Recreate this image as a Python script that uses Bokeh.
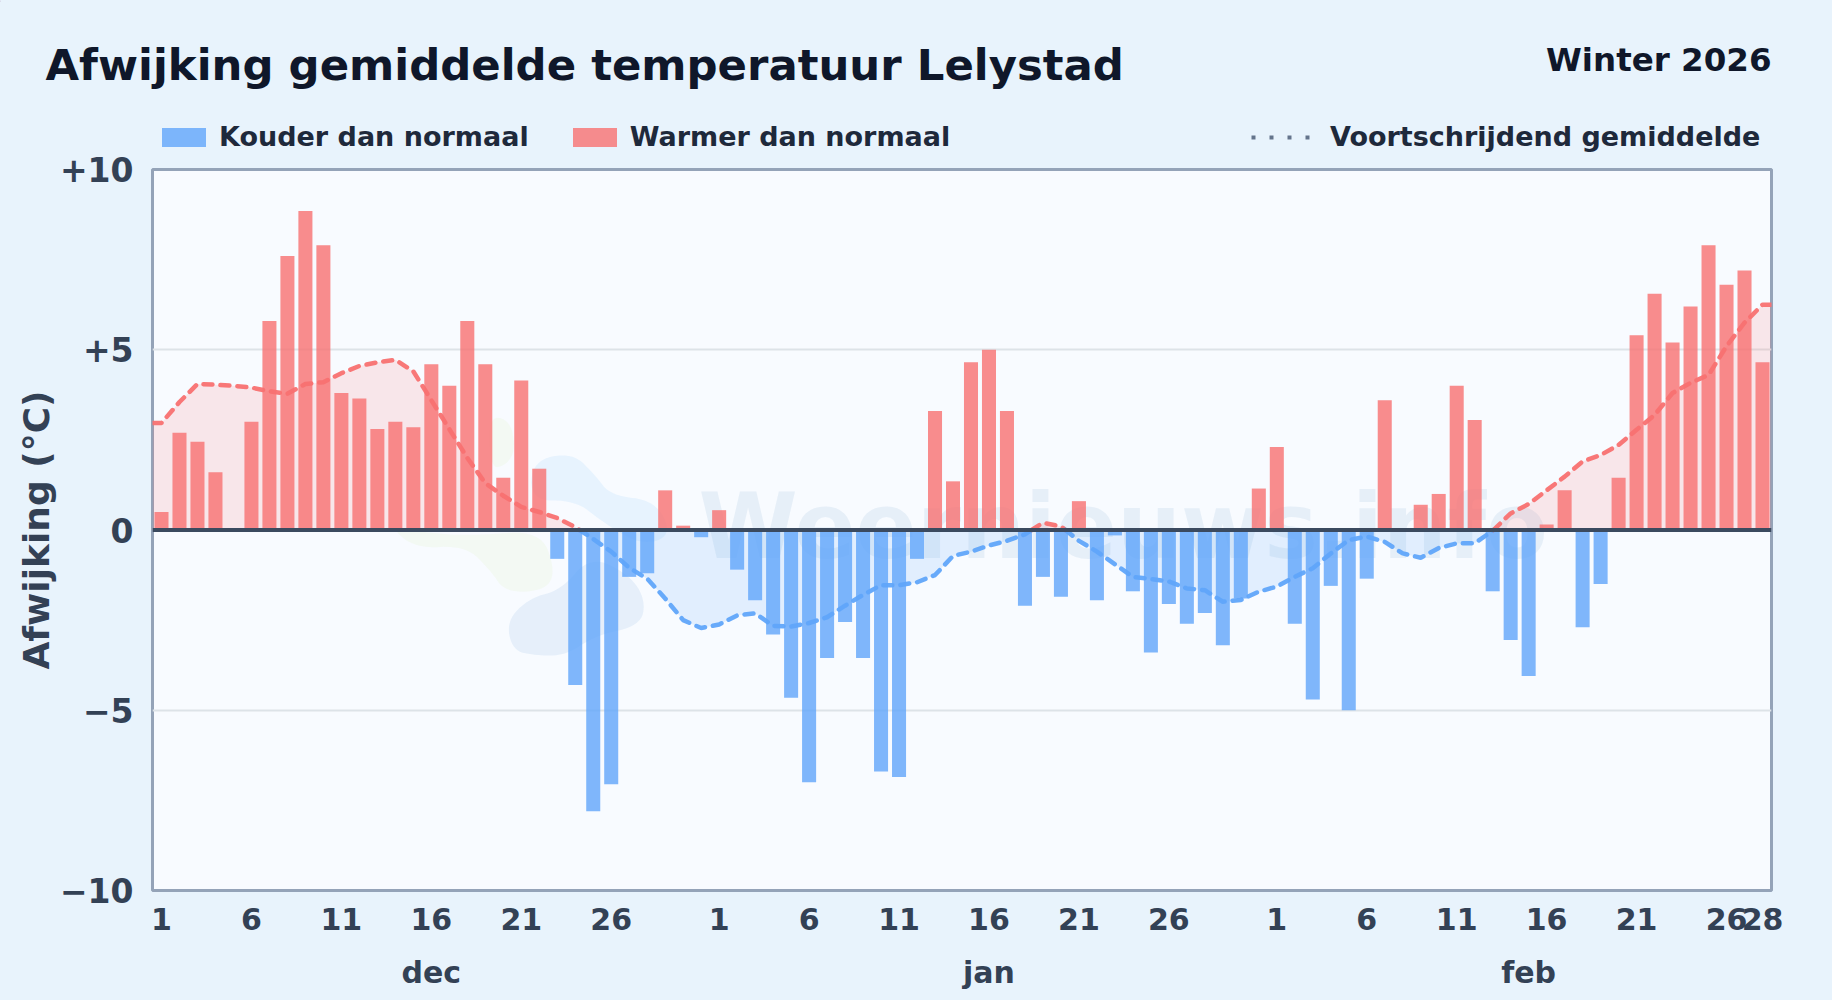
from bokeh.plotting import figure
from bokeh.embed import file_html
from bokeh.resources import INLINE
from bokeh.models import (Range1d, FixedTicker, LinearAxis, Label, Span, Legend,
                          LegendItem, ColumnDataSource)

# ---------- data ----------
dec_dev = [0.5, 2.7, 2.45, 1.6, 0, 3.0, 5.8, 7.6, 8.85, 7.9, 3.8, 3.65, 2.8, 3.0, 2.85, 4.6,
           4.0, 5.8, 4.6, 1.45, 4.15, 1.7, -0.8, -4.3, -7.8, -7.05, -1.3, -1.2, 1.1, 0.12, -0.2]
jan_dev = [0.55, -1.1, -1.95, -2.9, -4.65, -7.0, -3.55, -2.55, -3.55, -6.7, -6.85, -0.8, 3.3,
           1.35, 4.65, 5.0, 3.3, -2.1, -1.3, -1.85, 0.8, -1.95, -0.15, -1.7, -3.4, -2.05, -2.6,
           -2.3, -3.2, -1.9, 1.15]
feb_dev = [2.3, -2.6, -4.7, -1.55, -5.0, -1.35, 3.6, 0, 0.7, 1.0, 4.0, 3.05, -1.7, -3.05, -4.05,
           0.15, 1.1, -2.7, -1.5, 1.45, 5.4, 6.55, 5.2, 6.2, 7.9, 6.8, 7.2, 4.65]

dec_avg = [2.97, 3.55, 4.05, 4.03, 4.0, 3.95, 3.85, 3.78, 4.05, 4.1, 4.35, 4.55, 4.65, 4.72, 4.4,
           3.6, 2.8, 2.0, 1.3, 0.95, 0.64, 0.5, 0.33, 0.08, -0.25, -0.6, -1.05, -1.35, -1.9, -2.5, -2.72]
jan_avg = [-2.62, -2.37, -2.31, -2.66, -2.68, -2.58, -2.42, -2.1, -1.8, -1.53, -1.53, -1.45,
           -1.25, -0.72, -0.6, -0.43, -0.3, -0.12, 0.2, 0.1, -0.3, -0.6, -0.95, -1.3, -1.36,
           -1.43, -1.62, -1.67, -1.99, -1.94, -1.71]
feb_avg = [-1.57, -1.3, -1.06, -0.65, -0.28, -0.18, -0.33, -0.65, -0.77, -0.5, -0.37, -0.37, -0.02,
           0.46, 0.72, 1.1, 1.48, 1.9, 2.08, 2.36, 2.78, 3.19, 3.8, 4.08, 4.3, 5.1, 5.75, 6.25]

x_ticks = [1, 6, 11, 16, 21, 26, 32, 37, 42, 47, 52, 57, 63, 68, 73, 78, 83, 88, 90]
x_labels = ["1", "6", "11", "16", "21", "26", "1", "6", "11", "16", "21", "26",
            "1", "6", "11", "16", "21", "26", "28"]
month_ticks = [16, 47, 77]
month_labels = ["dec", "jan", "feb"]
y_ticks = [-10, -5, 0, 5, 10]
y_labels = ["\u221210", "\u22125", "0", "+5", "+10"]

title_text = "Afwijking gemiddelde temperatuur Lelystad"
season_text = "Winter 2026"
watermark_text = "Weernieuws.info"

# ---------- derived ----------
dev = dec_dev + jan_dev + feb_dev
avg = dec_avg + jan_avg + feb_avg
days = list(range(1, len(dev) + 1))

RED, BLUE = "#f87171", "#60a5fa"
BG, PLOT_BG = "#e8f3fc", "#f8fbff"
PAGE_W, PAGE_H = 1832, 1000
HEAD_H = 165
FRAME_L, FRAME_T, FRAME_W, FRAME_H = 152, 169, 1619, 721   # window pixels


def px_x(px):
    return 0.5 + (px - FRAME_L) / FRAME_W * 90


def px_y(py):
    return 10 - (py - FRAME_T) / FRAME_H * 20


# ---------- header strip (transparent, laid over the plot): title, season, legend ----------
h = figure(width=PAGE_W, height=HEAD_H, output_backend="svg", toolbar_location=None,
           x_range=Range1d(0, PAGE_W), y_range=Range1d(HEAD_H, 0),
           min_border=0, background_fill_alpha=0, border_fill_alpha=0)
h.styles = {"position": "absolute", "left": "0px", "top": "0px"}
h.axis.visible = False
h.grid.visible = False
h.outline_line_color = None
h.add_layout(Label(x=45, y=64, text=title_text, text_font="DejaVu Sans",
                   text_font_style="bold", text_font_size="43.4px", text_color="#0f172a",
                   text_baseline="middle"))
h.add_layout(Label(x=1771, y=59, text=season_text, text_font="DejaVu Sans",
                   text_font_style="bold", text_font_size="32.5px", text_color="#0f172a",
                   text_baseline="middle", text_align="right"))
# legend keys: renderers whose only point lies outside the header's visible range
leg_neg = h.vbar(x=[-100], top=[1], width=1, fill_color=BLUE, fill_alpha=0.8, line_color=None)
leg_pos = h.vbar(x=[-100], top=[1], width=1, fill_color=RED, fill_alpha=0.8, line_color=None)
leg_avg = h.line([-100, -90], [0, 0], line_color="#64748b", line_width=4, line_dash="4 14")
LEG = dict(orientation="horizontal", background_fill_alpha=0, border_line_alpha=0, padding=0,
           margin=0, glyph_height=24, label_height=19,
           label_text_font="DejaVu Sans", label_text_font_style="bold",
           label_text_font_size="27px", label_text_color="#1e293b")
h.add_layout(Legend(items=[LegendItem(label="Kouder dan normaal", renderers=[leg_neg]),
                           LegendItem(label="Warmer dan normaal", renderers=[leg_pos])],
                    location=(156, HEAD_H - 152), glyph_width=55, spacing=38, label_standoff=8, **LEG))
h.add_layout(Legend(items=[LegendItem(label="Voortschrijdend gemiddelde", renderers=[leg_avg])],
                    location=(1251, HEAD_H - 152), glyph_width=60, spacing=38, label_standoff=19, **LEG))

# ---------- main plot ----------
p = figure(width=PAGE_W, height=PAGE_H, output_backend="svg", toolbar_location=None,
           x_range=Range1d(0.5, 90.5), y_range=Range1d(-10, 10),
           frame_width=FRAME_W, frame_height=FRAME_H,
           min_border_left=FRAME_L, min_border_top=FRAME_T,
           min_border_right=PAGE_W - FRAME_L - FRAME_W,
           min_border_bottom=PAGE_H - FRAME_T - FRAME_H,
           background_fill_color=PLOT_BG, border_fill_color=BG)
p.outline_line_color = "#94a3b8"
p.outline_line_width = 3

p.xgrid.visible = False
p.ygrid.ticker = FixedTicker(ticks=[-5, 5])
p.ygrid.grid_line_color = "#dde3e8"
p.ygrid.grid_line_width = 2


def style_axis(ax, size):
    ax.axis_line_color = None
    ax.major_tick_line_color = None
    ax.minor_tick_line_color = None
    ax.major_label_text_font = "DejaVu Sans"
    ax.major_label_text_font_style = "bold"
    ax.major_label_text_font_size = size
    ax.major_label_text_color = "#334155"


ax = p.xaxis[0]
ax.ticker = FixedTicker(ticks=x_ticks)
ax.major_label_overrides = dict(zip(x_ticks, x_labels))
ax.major_tick_in = 0
ax.major_tick_out = 0
ax.major_label_standoff = 17
style_axis(ax, "30px")

ay = p.yaxis[0]
ay.ticker = FixedTicker(ticks=y_ticks)
ay.major_label_overrides = dict(zip(y_ticks, y_labels))
ay.major_tick_in = 0
ay.major_tick_out = 0
ay.major_label_standoff = 19
style_axis(ay, "33px")
ay.axis_label = "Afwijking (\u00b0C)"
ay.axis_label_text_font = "DejaVu Sans"
ay.axis_label_text_font_style = "bold"
ay.axis_label_text_font_size = "36px"
ay.axis_label_text_color = "#334155"
ay.axis_label_standoff = 0

am = LinearAxis(ticker=FixedTicker(ticks=month_ticks),
                major_label_overrides=dict(zip(month_ticks, month_labels)),
                major_tick_in=0, major_tick_out=0, major_label_standoff=22)
style_axis(am, "30px")
p.add_layout(am, "below")


# ---------- watermark ----------
def chaikin(points, n=3):
    for _ in range(n):
        out = []
        for i, a in enumerate(points):
            b = points[(i + 1) % len(points)]
            out.append((0.75 * a[0] + 0.25 * b[0], 0.75 * a[1] + 0.25 * b[1]))
            out.append((0.25 * a[0] + 0.75 * b[0], 0.25 * a[1] + 0.75 * b[1]))
        points = out
    return points


def blob(points, color, alpha):
    s = chaikin(points)
    p.patch([px_x(a) for a, _ in s], [px_y(b) for _, b in s],
            fill_color=color, fill_alpha=alpha, line_color=None)


blob([(532, 460), (572, 452), (595, 475), (610, 495), (655, 500), (672, 535), (640, 545),
      (600, 520), (575, 500), (530, 500)], "#bfe0fb", 0.30)
blob([(506, 620), (530, 597), (560, 590), (590, 555), (630, 575), (645, 600), (640, 625),
      (595, 635), (565, 655), (535, 655), (512, 650)], "#c9dcf2", 0.38)
blob([(388, 525), (430, 533), (475, 535), (540, 530), (555, 570), (545, 590), (505, 592),
      (490, 570), (465, 545), (415, 548)], "#e6f4d4", 0.28)
blob([(488, 415), (510, 420), (515, 450), (505, 465), (490, 468)], "#e6f4d4", 0.28)

wm = Label(x=px_x(698), y=0.1, text=watermark_text, text_font="DejaVu Sans", text_font_style="bold",
           text_font_size="90px", text_color="#c5d9ec", text_alpha=0.35,
           text_baseline="middle", level="underlay")
p.add_layout(wm)

# ---------- moving average: area and line, split where it crosses zero ----------
xs = [0.5] + days + [90.5]
ys = [avg[0]] + avg + [avg[-1]]
parts, cur_x, cur_y = [], [xs[0]], [ys[0]]
for i in range(1, len(xs)):
    if ys[i - 1] * ys[i] < 0:
        t = ys[i - 1] / (ys[i - 1] - ys[i])
        xc = xs[i - 1] + t * (xs[i] - xs[i - 1])
        cur_x.append(xc)
        cur_y.append(0.0)
        parts.append((cur_x, cur_y))
        cur_x, cur_y = [xc], [0.0]
    cur_x.append(xs[i])
    cur_y.append(ys[i])
parts.append((cur_x, cur_y))

for px_, py_ in parts:
    color = RED if sum(py_) > 0 else BLUE
    p.varea(px_, py_, [0] * len(py_), fill_color=color, fill_alpha=0.15)

# ---------- bars ----------
pos_src = ColumnDataSource(dict(x=[d for d, v in zip(days, dev) if v > 0], top=[v for v in dev if v > 0]))
neg_src = ColumnDataSource(dict(x=[d for d, v in zip(days, dev) if v < 0], top=[v for v in dev if v < 0]))
p.vbar(x="x", top="top", bottom=0, width=0.78, source=neg_src, fill_color=BLUE,
       fill_alpha=0.8, line_color=None)
p.vbar(x="x", top="top", bottom=0, width=0.78, source=pos_src, fill_color=RED,
       fill_alpha=0.8, line_color=None)

for px_, py_ in parts:
    color = RED if sum(py_) > 0 else BLUE
    p.line(px_, py_, line_color=color, line_width=4.5, line_alpha=0.95, line_dash="9 8",
           line_cap="round")

p.add_layout(Span(location=0, dimension="width", line_color="#3b4a5f", line_width=4, level="overlay"))

html = file_html([p, h], INLINE)
html = html.replace("<head>", "<head><style>html,body{background:%s;}</style>" % BG, 1)
open("out.html", "w").write(html)
